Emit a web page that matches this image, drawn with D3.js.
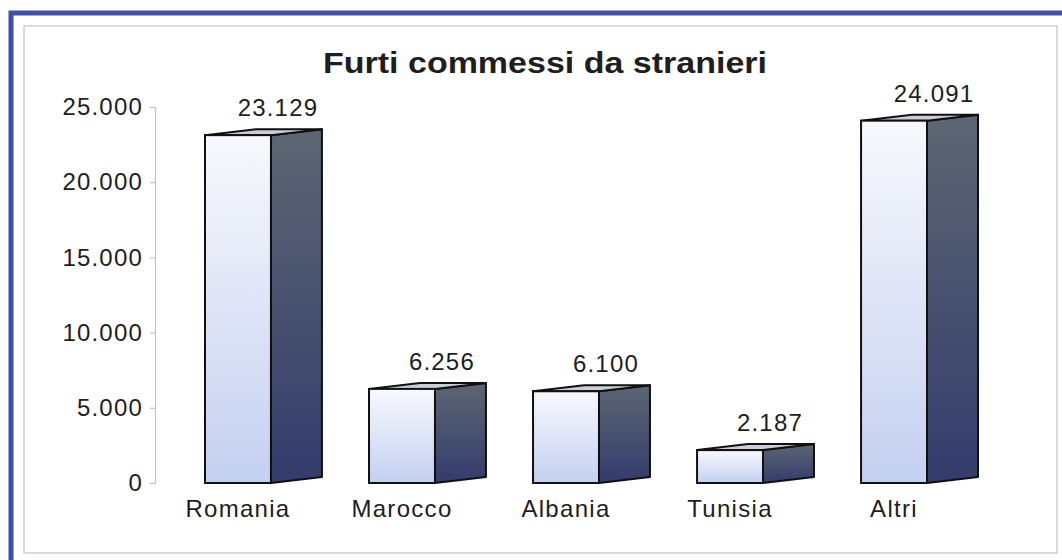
<!DOCTYPE html>
<html lang="en">
<head>
    <meta charset="utf-8">
    <title>Furti commessi da stranieri</title>
    <script type="text/javascript" src="https://d3js.org/d3.v7.min.js"></script>
    <style>
        body { margin: 0; background: #fff; }
        text { font-family: "Liberation Sans", Arial, sans-serif; fill: #1e1e1e; }
    </style>
</head>
<body>
    <script type="text/javascript">

        // Chart data
        var categories = ["Romania", "Marocco", "Albania", "Tunisia", "Altri"];
        var values = [23129, 6256, 6100, 2187, 24091];
        var yTicks = [0, 5000, 10000, 15000, 20000, 25000];
        var chartTitle = "Furti commessi da stranieri";

        // Italian number format: 23.129
        var it = d3.formatLocale({ decimal: ",", thousands: ".", grouping: [3], currency: ["", " €"] });
        var fmt = it.format(",d");

        var width = 1062, height = 560;
        var depthX = 51, depthY = 6;

        var svg = d3.select("body").append("svg")
            .attr("width", width)
            .attr("height", height);

        // Gradients for the box faces
        var defs = svg.append("defs");
        var front = defs.append("linearGradient").attr("id", "frontGrad")
            .attr("x1", 0).attr("y1", 0).attr("x2", 0).attr("y2", 1);
        front.append("stop").attr("offset", "0%").attr("stop-color", "#f8f9fd");
        front.append("stop").attr("offset", "100%").attr("stop-color", "#c4d0f0");
        var side = defs.append("linearGradient").attr("id", "sideGrad")
            .attr("x1", 0).attr("y1", 0).attr("x2", 0).attr("y2", 1);
        side.append("stop").attr("offset", "0%").attr("stop-color", "#5d6672");
        side.append("stop").attr("offset", "100%").attr("stop-color", "#333c6c");

        // Frames: blue outer border, grey inner frame
        svg.append("rect")
            .attr("x", 11).attr("y", 13)
            .attr("width", width + 20).attr("height", height + 20)
            .attr("fill", "none")
            .attr("stroke", "#3d50a6")
            .attr("stroke-width", 5);
        svg.append("rect")
            .attr("x", 24).attr("y", 26)
            .attr("width", 1033).attr("height", 527)
            .attr("fill", "#fff")
            .attr("stroke", "#cfcfcf")
            .attr("stroke-width", 1.5);

        // Scales
        var y = d3.scaleLinear().domain([0, 25000]).range([483, 107]);
        var x = d3.scaleBand().domain(categories)
            .range([205, 927])
            .paddingInner(0.598)
            .paddingOuter(0);
        var bw = x.bandwidth();

        // Y axis
        var yAxis = svg.append("g")
            .attr("transform", "translate(155,0)")
            .call(d3.axisLeft(y).tickValues(yTicks).tickFormat(fmt).tickSize(5).tickPadding(7));
        yAxis.select(".domain").attr("stroke", "#c4c4c4").attr("stroke-width", 1.2);
        yAxis.selectAll(".tick line").attr("stroke", "#c4c4c4").attr("stroke-width", 1.2);
        yAxis.selectAll(".tick text")
            .attr("fill", "#1e1e1e")
            .style("font-size", "24px")
            .style("letter-spacing", "1.2px")
            .style("font-family", "'Liberation Sans', Arial, sans-serif");

        // Title
        svg.append("text")
            .attr("x", 545).attr("y", 73)
            .attr("text-anchor", "middle")
            .attr("textLength", 444)
            .attr("lengthAdjust", "spacingAndGlyphs")
            .style("font-size", "29px")
            .style("font-weight", "bold")
            .text(chartTitle);

        var data = categories.map(function(c, i) { return { cat: c, value: values[i] }; });

        // 3D boxes
        var boxes = svg.selectAll("g.box")
            .data(data)
            .enter()
            .append("g")
            .attr("class", "box");

        boxes.append("path")   // side face
            .attr("d", function(d) {
                var x1 = x(d.cat) + bw, yt = y(d.value), yb = y(0);
                return "M" + x1 + "," + yt + "L" + (x1 + depthX) + "," + (yt - depthY) +
                    "L" + (x1 + depthX) + "," + (yb - depthY) + "L" + x1 + "," + yb + "Z";
            })
            .attr("fill", "url(#sideGrad)")
            .attr("stroke", "#111")
            .attr("stroke-width", 2)
            .attr("stroke-linejoin", "round");

        boxes.append("path")   // top face
            .attr("d", function(d) {
                var x0 = x(d.cat), yt = y(d.value);
                return "M" + x0 + "," + yt + "L" + (x0 + depthX) + "," + (yt - depthY) +
                    "L" + (x0 + bw + depthX) + "," + (yt - depthY) + "L" + (x0 + bw) + "," + yt + "Z";
            })
            .attr("fill", "#c9ced9")
            .attr("stroke", "#111")
            .attr("stroke-width", 2)
            .attr("stroke-linejoin", "round");

        boxes.append("rect")   // front face
            .attr("x", function(d) { return x(d.cat); })
            .attr("y", function(d) { return y(d.value); })
            .attr("width", bw)
            .attr("height", function(d) { return y(0) - y(d.value); })
            .attr("fill", "url(#frontGrad)")
            .attr("stroke", "#111")
            .attr("stroke-width", 2);

        // Value labels
        boxes.append("text")
            .attr("x", function(d) { return x(d.cat) + bw + 7; })
            .attr("y", function(d) { return y(d.value) - 19; })
            .attr("text-anchor", "middle")
            .style("font-size", "24px")
            .style("letter-spacing", "1.2px")
            .text(function(d) { return fmt(d.value); });

        // Category labels
        boxes.append("text")
            .attr("x", function(d) { return x(d.cat) + bw / 2; })
            .attr("y", 517)
            .attr("text-anchor", "middle")
            .style("font-size", "24px")
            .style("letter-spacing", "1.3px")
            .text(function(d) { return d.cat; });

    </script>
</body>
</html>
